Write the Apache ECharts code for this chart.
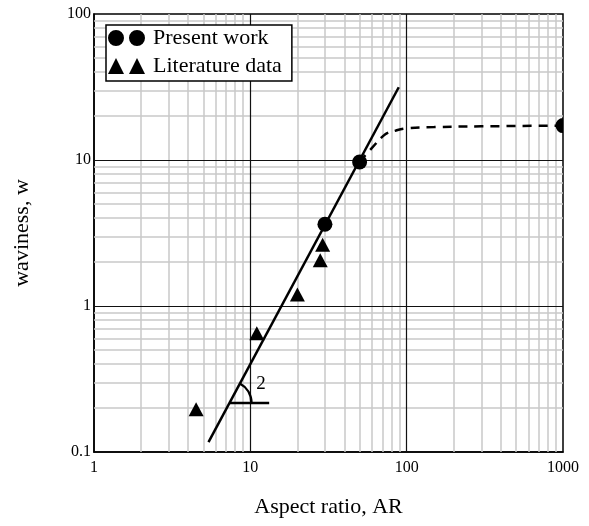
<!DOCTYPE html>
<html>
<head>
<meta charset="utf-8">
<script src="https://cdn.jsdelivr.net/npm/echarts@6/dist/echarts.min.js"></script>
<style>
html,body{margin:0;padding:0;background:#fff;}
#chart{width:589px;height:526px;}
</style>
</head>
<body>
<div id="chart"></div>
<script>
// ---- data ----
const presentAR = [30, 50, 1000];
const presentW  = [3.63, 9.7, 17.2];
const literatureAR = [29.0, 28.0, 20.0, 11.0, 4.5];
const literatureW  = [2.63, 2.06, 1.20, 0.65, 0.196];
const fitAR = [5.4, 89];
const fitW  = [0.117, 31.5];
const trendAR = [50, 60, 73, 85, 100, 150, 300, 1000];
const trendW  = [9.7, 12.1, 15.0, 15.9, 16.5, 16.8, 17.0, 17.2];
const slopeAR = [7.35, 13.2];
const slopeW  = [0.217, 0.217];
const slopeLabelPos = [11.7, 0.29];
const slopeLabel = '2';
const minorX = [2,3,4,5,6,7,8,9,20,30,40,50,60,70,80,90,200,300,400,500,600,700,800,900];
const minorY = [0.2,0.3,0.4,0.5,0.6,0.7,0.8,0.9,2,3,4,5,6,7,8,9,20,30,40,50,60,70,80,90];
const majorX = [10, 100];
const majorY = [1, 10];

const FONT = 'Liberation Serif';
const pairs = (xs, ys) => xs.map((x, i) => [x, ys[i]]);

const chart = echarts.init(document.getElementById('chart'), null, {renderer: 'canvas'});

const option = {
  animation: false,
  backgroundColor: '#fff',
  grid: {left: 94, top: 14, width: 469, height: 438, show: true, borderColor: '#000', borderWidth: 1.5, backgroundColor: 'transparent'},
  legend: {
    orient: 'vertical', left: 106, top: 25, z: 10,
    padding: [2, 10, 4, 2], itemGap: 6, itemWidth: 37, itemHeight: 16,
    borderColor: '#000', borderWidth: 1.5, backgroundColor: '#fff',
    textStyle: {fontFamily: FONT, fontSize: 22, color: '#000', padding: [0, 0, 0, 3]},
    data: [
      {name: 'Present work', icon: 'path://M0,8A8,8,0,1,1,16,8A8,8,0,1,1,0,8ZM21,8A8,8,0,1,1,37,8A8,8,0,1,1,21,8Z'},
      {name: 'Literature data', icon: 'path://M0,16L8,0L16,16ZM21,16L29,0L37,16Z'}
    ]
  },
  xAxis: {
    type: 'log', logBase: 10, min: 1, max: 1000,
    splitLine: {show: false}, axisTick: {show: false},
    axisLine: {lineStyle: {color: '#000', width: 1.5}},
    axisLabel: {fontFamily: FONT, fontSize: 16, color: '#000', margin: 8, formatter: v => String(v)},
    name: 'Aspect ratio, AR', nameLocation: 'middle', nameGap: 44,
    nameTextStyle: {fontFamily: FONT, fontSize: 22, color: '#000'}
  },
  yAxis: {
    type: 'log', logBase: 10, min: 0.1, max: 100,
    splitLine: {show: false}, axisTick: {show: false},
    axisLine: {lineStyle: {color: '#000', width: 1.5}},
    axisLabel: {fontFamily: FONT, fontSize: 16, color: '#000', margin: 3, formatter: v => String(v)},
    name: 'waviness, w', nameLocation: 'middle', nameGap: 61,
    nameTextStyle: {fontFamily: FONT, fontSize: 22, color: '#000'}
  },
  series: [
    {
      name: 'minorGrid', type: 'line', data: [], z: 1, silent: true,
      markLine: {
        z: 1, silent: true, symbol: ['none', 'none'], animation: false,
        label: {show: false},
        lineStyle: {color: '#c8c8c8', width: 1.5, type: 'solid'},
        emphasis: {disabled: true},
        data: minorX.map(v => ({xAxis: v})).concat(minorY.map(v => ({yAxis: v})))
      }
    },
    {
      name: 'majorGrid', type: 'line', data: [], z: 1, silent: true,
      markLine: {
        z: 1.5, silent: true, symbol: ['none', 'none'], animation: false,
        label: {show: false},
        lineStyle: {color: '#111', width: 1.2, type: 'solid'},
        emphasis: {disabled: true},
        data: majorX.map(v => ({xAxis: v})).concat(majorY.map(v => ({yAxis: v})))
      }
    },
    {
      name: 'fit', type: 'line', data: pairs(fitAR, fitW), z: 3,
      showSymbol: false, symbol: 'none',
      lineStyle: {color: '#000', width: 2.5}
    },
    {
      name: 'trend', type: 'line', data: pairs(trendAR, trendW), z: 3,
      showSymbol: false, symbol: 'none', smooth: 0.4,
      lineStyle: {color: '#000', width: 2.5, type: [9, 7]}
    },
    {
      name: 'slopeBase', type: 'line', data: pairs(slopeAR, slopeW), z: 3,
      showSymbol: false, symbol: 'none',
      lineStyle: {color: '#000', width: 2.5}
    },
    {
      name: 'slopeArc', type: 'custom', z: 3, silent: true,
      data: [[slopeAR[0], slopeW[0]]],
      encode: {x: 0, y: 1},
      renderItem: function (params, api) {
        const c = api.coord([api.value(0), api.value(1)]);
        const p1 = api.coord([fitAR[0], fitW[0]]);
        const p2 = api.coord([fitAR[1], fitW[1]]);
        const ang = Math.atan2(p2[1] - p1[1], p2[0] - p1[0]);
        const t = api.coord(slopeLabelPos);
        return {
          type: 'group',
          children: [
            {type: 'arc', shape: {cx: c[0], cy: c[1], r: 22, startAngle: ang, endAngle: 0, clockwise: true},
             style: {stroke: '#000', lineWidth: 2.5, fill: null}},
            {type: 'text', x: t[0], y: t[1],
             style: {text: slopeLabel, fontFamily: FONT, fontSize: 19, fill: '#000', align: 'center', verticalAlign: 'middle'}}
          ]
        };
      }
    },
    {
      name: 'Literature data', type: 'scatter', data: pairs(literatureAR, literatureW), z: 4,
      symbol: 'triangle', symbolSize: [15, 14],
      itemStyle: {color: '#000', opacity: 1}
    },
    {
      name: 'Present work', type: 'custom', z: 5, clip: true,
      data: pairs(presentAR, presentW),
      encode: {x: 0, y: 1},
      itemStyle: {color: '#000'},
      renderItem: function (params, api) {
        const p = api.coord([api.value(0), api.value(1)]);
        return {type: 'circle', shape: {cx: p[0], cy: p[1], r: 7.5}, style: {fill: '#000'}};
      }
    }
  ]
};
chart.setOption(option);
</script>
</body>
</html>
